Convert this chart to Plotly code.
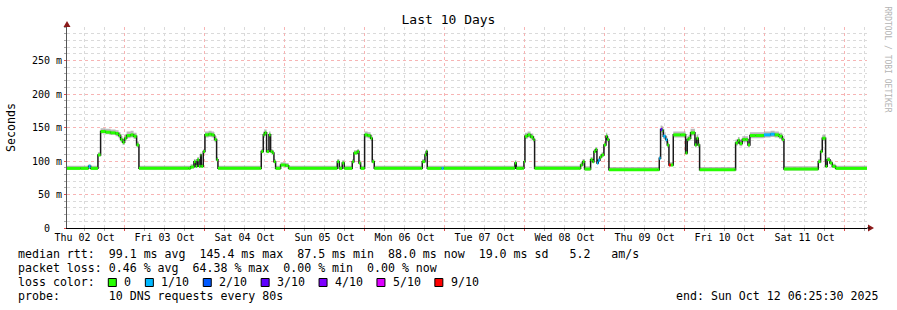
import pandas as pd
import plotly.graph_objects as go

# ---------------- data ----------------
title_text = "Last 10 Days"
day_labels = ["Thu 02 Oct", "Fri 03 Oct", "Sat 04 Oct", "Sun 05 Oct", "Mon 06 Oct",
              "Tue 07 Oct", "Wed 08 Oct", "Thu 09 Oct", "Fri 10 Oct", "Sat 11 Oct"]
y_tick_ms = [0, 50, 100, 150, 200, 250]
y_tick_text = ["0\u00a0\u00a0", "50 m", "100 m", "150 m", "200 m", "250 m"]

# hours since 2025-10-02 00:00
hours = [6.42, 10.8, 13.2, 13.8, 16.0, 16.8, 18.3, 19.8, 21.3, 22.2, 22.8, 23.4, 24.0, 24.6, 25.8, 26.7, 27.6, 28.3,
         43.2, 43.8, 44.8, 45.3, 45.8, 46.3, 46.8, 47.0, 47.6, 48.1, 49.2, 50.1, 50.8, 51.0, 51.6, 52.0,
         64.6, 65.0, 65.6, 66.0, 66.6, 67.3, 67.8, 68.4, 68.8, 69.3, 70.8, 72.3, 73.2,
         87.8, 88.4, 89.3, 89.9, 92.3, 92.8, 93.8, 94.3, 94.8, 96.0, 96.9, 97.8, 98.3, 98.9,
         112.8, 113.3, 114.1, 114.5, 114.8, 119.1, 119.7,
         140.8, 141.1, 141.5, 143.4, 143.8, 144.1, 144.9, 145.8, 146.6, 147.0,
         160.3, 160.8, 161.4, 162.0, 163.8, 164.4, 164.8, 165.3, 165.7, 166.1, 166.6, 167.1, 167.8, 168.4, 168.8, 169.3,
         183.8, 184.4, 184.8, 185.3, 185.6, 186.3, 186.8, 187.3, 187.8, 188.6, 190.8, 192.3, 192.8, 193.2, 193.8,
         194.8, 195.1, 195.6, 196.1, 196.5,
         207.0, 207.3, 208.0, 208.5, 209.3, 210.3, 211.0, 211.6, 213.3, 215.8, 217.8, 219.0, 220.3, 221.3, 221.8,
         231.8, 232.1, 232.8, 233.3, 233.8, 234.3, 234.8, 235.6, 236.3, 237.3, 246.72]
median_ms = [89, 89, 92, 89, 109, 144, 143, 142, 141, 138, 132, 128, 134, 138, 139, 137, 124, 89,
             89, 91, 99, 92, 102, 92, 109, 92, 114, 139, 140, 139, 138, 132, 102, 89,
             89, 114, 139, 142, 114, 139, 114, 112, 99, 89, 94, 93, 89,
             99, 89, 97, 89, 99, 112, 114, 97, 89, 139, 138, 134, 99, 89,
             89, 99, 109, 114, 89, 89, 89,
             89, 97, 89, 89, 99, 137, 139, 136, 132, 89,
             89, 94, 99, 88, 102, 99, 114, 117, 97, 101, 106, 109, 124, 137, 132, 87,
             87, 104, 147, 146, 137, 132, 124, 94, 94, 139, 139, 112, 132, 134, 142,
             142, 124, 134, 124, 87,
             87, 127, 131, 126, 132, 132, 124, 138, 138, 139, 140, 139, 137, 132, 88,
             88, 99, 114, 134, 134, 92, 102, 97, 92, 89, 88]
lost_pings = [0, 0, 1, 0, 0, 0, 0, 0, 0, 0, 0, 0, 0, 0, 0, 0, 0, 0,
              0, 0, 0, 0, 0, 0, 0, 0, 0, 0, 0, 0, 0, 0, 0, 0,
              0, 0, 0, 0, 0, 0, 0, 0, 0, 0, 0, 0, 0,
              0, 0, 0, 0, 0, 0, 0, 0, 0, 0, 0, 0, 0, 0,
              0, 0, 0, 0, 0, 1, 0,
              0, 0, 0, 0, 0, 0, 0, 0, 0, 0,
              0, 0, 0, 0, 0, 0, 0, 0, 1, 1, 0, 0, 0, 0, 0, 0,
              0, 1, 3, 0, 1, 1, 0, 9, 0, 0, 0, 0, 0, 0, 0,
              0, 0, 0, 0, 0,
              0, 0, 0, 0, 0, 0, 0, 0, 0, 1, 1, 0, 0, 0, 0,
              0, 0, 0, 0, 0, 0, 0, 0, 0, 0, 0]
smoke_up_ms = [4, 4, 3, 4, 4, 5, 5, 5, 5, 5, 5, 5, 6, 6, 6, 5, 5, 4,
               4, 4, 4, 4, 4, 4, 4, 4, 4, 5, 5, 5, 5, 5, 4, 4,
               4, 4, 5, 5, 4, 5, 4, 4, 4, 4, 4, 4, 4,
               4, 4, 4, 4, 4, 4, 4, 4, 4, 5, 5, 5, 4, 4,
               4, 4, 4, 4, 4, 4, 4,
               4, 4, 4, 4, 4, 5, 5, 5, 5, 4,
               4, 4, 4, 4, 4, 4, 4, 4, 4, 4, 4, 4, 4, 5, 5, 4,
               4, 4, 6, 6, 6, 5, 5, 4, 4, 5, 5, 4, 5, 5, 6,
               6, 5, 5, 5, 4,
               4, 5, 5, 5, 5, 5, 5, 5, 5, 5, 5, 5, 5, 5, 4,
               4, 4, 4, 5, 5, 4, 4, 4, 4, 4, 4]
smoke_dn_ms = [2, 2, 1, 2, 2, 3, 3, 3, 4, 4, 4, 4, 4, 4, 4, 4, 4, 2,
               2, 2, 2, 2, 2, 2, 2, 2, 2, 4, 4, 4, 4, 4, 2, 2,
               2, 2, 4, 4, 2, 4, 2, 2, 2, 2, 2, 2, 2,
               2, 2, 2, 2, 2, 2, 2, 2, 2, 4, 4, 4, 2, 2,
               2, 2, 2, 2, 2, 2, 2,
               2, 2, 2, 2, 2, 4, 4, 4, 4, 2,
               2, 2, 2, 2, 2, 2, 2, 2, 2, 2, 2, 2, 2, 4, 4, 2,
               2, 2, 4, 4, 4, 4, 4, 2, 2, 4, 4, 2, 4, 4, 4,
               4, 4, 4, 4, 2,
               2, 4, 4, 4, 4, 4, 4, 4, 4, 4, 4, 4, 4, 4, 2,
               2, 2, 2, 4, 4, 2, 2, 2, 2, 2, 2]

loss_levels = [0, 1, 2, 3, 4, 5, 9]
loss_labels = ["0", "1/10", "2/10", "3/10", "4/10", "5/10", "9/10"]
loss_colors = ["#26ff00", "#00b8ff", "#0059ff", "#5e00ff", "#7e00ff", "#dd00ff", "#ff0000"]

legend_line1 = "median rtt:  99.1 ms avg  145.4 ms max  87.5 ms min  88.0 ms now  19.0 ms sd   5.2   am/s"
legend_line2 = "packet loss: 0.46 % avg  64.38 % max  0.00 % min  0.00 % now"
legend_line3 = "loss color:"
legend_line4 = "probe:       10 DNS requests every 80s"
end_text = "end: Sun Oct 12 06:25:30 2025"
watermark = "RRDTOOL / TOBI OETIKER"

# ---------------- build ----------------
base = pd.Timestamp("2025-10-02 00:00:00")
t = [base + pd.Timedelta(hours=h) for h in hours]
t_start = base + pd.Timedelta(hours=6.72)
t_end = base + pd.Timedelta(hours=246.72)
med_s = [v / 1000 for v in median_ms]
hi_s = [(v + u) / 1000 for v, u in zip(median_ms, smoke_up_ms)]
lo_s = [(v - d) / 1000 for v, d in zip(median_ms, smoke_dn_ms)]

W, H = 897, 310
ML, MR, MT, MB = 67, 30, 27, 82
PW, PH = W - ML - MR, H - MT - MB
FONT = "DejaVu Sans Mono"
MAJOR_GRID = "#f7b4b4"
MINOR_GRID = "#dadada"

fig = go.Figure()
# smoke
fig.add_trace(go.Scatter(x=t, y=lo_s, mode="lines", line=dict(width=0, shape="hv"),
                         hoverinfo="skip", showlegend=False))
fig.add_trace(go.Scatter(x=t, y=hi_s, mode="lines", line=dict(width=0, shape="hv"),
                         fill="tonexty", fillcolor="rgba(140,140,140,0.6)",
                         hoverinfo="skip", showlegend=False))
# median black step line
fig.add_trace(go.Scatter(x=t, y=med_s, mode="lines", line=dict(color="#1a1a1a", width=1.5, shape="hv"),
                         showlegend=False))
# loss-coloured horizontal segments
for lvl, col in zip(loss_levels, loss_colors):
    xs, ys = [], []
    for i in range(len(t)):
        if lost_pings[i] != lvl:
            continue
        x1 = t[i + 1] if i + 1 < len(t) else t_end
        xs += [t[i], x1, None]
        ys += [med_s[i], med_s[i], None]
    if xs:
        fig.add_trace(go.Scatter(x=xs, y=ys, mode="lines", line=dict(color=col, width=3),
                                 showlegend=False))
# dummy for label axis
fig.add_trace(go.Scatter(x=[t_start], y=[0], xaxis="x2", mode="markers",
                         marker=dict(opacity=0), showlegend=False, hoverinfo="skip"))

midnights = [base + pd.Timedelta(days=d) for d in range(1, 11)]
noons = [base + pd.Timedelta(days=d, hours=12) for d in range(len(day_labels))]

fig.update_layout(
    width=W, height=H, margin=dict(l=ML, r=MR, t=MT, b=MB),
    plot_bgcolor="white", paper_bgcolor="white", showlegend=False,
    font=dict(family=FONT, color="black"),
    title=dict(text=title_text, x=0.5, xanchor="center", y=1 - 19 / H, yanchor="middle",
               font=dict(family=FONT, size=13, color="black")),
    xaxis=dict(type="date", range=[t_start, t_end], tickmode="array", tickvals=midnights,
               ticktext=[""] * len(midnights), showgrid=True, gridcolor=MAJOR_GRID, griddash="dot",
               gridwidth=1, ticks="outside", ticklen=2, tickcolor="#e05050",
               showline=True, linecolor="black", linewidth=1, zeroline=False,
               minor=dict(tickmode="linear", tick0=base, dtick=6 * 3600 * 1000, showgrid=True,
                          gridcolor=MINOR_GRID, griddash="dot", gridwidth=1,
                          ticks="outside", ticklen=2, tickcolor="#aaaaaa")),
    xaxis2=dict(type="date", overlaying="x", anchor="y", side="bottom", range=[t_start, t_end],
                tickmode="array", tickvals=noons, ticktext=day_labels, showgrid=False,
                ticks="", showline=False, zeroline=False, ticklabelstandoff=2,
                tickfont=dict(family=FONT, size=10, color="black")),
    yaxis=dict(range=[0, 0.3], tickmode="array", tickvals=[v / 1000 for v in y_tick_ms],
               ticktext=y_tick_text, showgrid=True, gridcolor=MAJOR_GRID, griddash="dot", gridwidth=1,
               zeroline=False, showline=True, linecolor="#555555", linewidth=1,
               ticks="outside", ticklen=2, tickcolor="#e05050",
               tickfont=dict(family=FONT, size=10, color="black"),
               minor=dict(tickmode="linear", tick0=0, dtick=0.01, showgrid=True,
                          gridcolor=MINOR_GRID, griddash="dot", gridwidth=1,
                          ticks="outside", ticklen=2, tickcolor="#aaaaaa")),
)


def px_x(px):
    return (px - ML) / PW


def px_y(py):
    return (MT + PH - py) / PH


annots = []


def text(px, py, s, anchor="left", size=11.6, color="black", angle=0):
    annots.append(dict(x=px_x(px), y=px_y(py), xref="paper", yref="paper", text=s.replace(" ", "&nbsp;"),
                       showarrow=False, xanchor=anchor, yanchor="middle", textangle=angle,
                       font=dict(family=FONT, size=size, color=color)))


text(16, 254, legend_line1)
text(16, 268, legend_line2)
text(16, 282, legend_line3)
text(16, 296, legend_line4)
text(880, 296, end_text, anchor="right")
text(11, 127, "Seconds", anchor="center", angle=-90)
text(887.5, 59, watermark, anchor="center", size=8, color="#b4b4b4", angle=90)

shapes = []
bx = 108.3
for lab, col in zip(loss_labels, loss_colors):
    shapes.append(dict(type="rect", xref="paper", yref="paper", x0=px_x(bx), x1=px_x(bx + 8),
                       y0=px_y(286.5), y1=px_y(278.5), fillcolor=col, line=dict(color="black", width=1)))
    text(bx + 14, 282, lab)
    bx += 30.1 + 6.95 * len(lab)

# axis arrows
shapes.append(dict(type="path", xref="paper", yref="paper", xsizemode="pixel", ysizemode="pixel",
                   xanchor=0, yanchor=1, path="M -3.5 0 L 3.5 0 L 0 6 Z",
                   fillcolor="#8b1a1a", line=dict(color="#8b1a1a", width=0)))
shapes.append(dict(type="path", xref="paper", yref="paper", xsizemode="pixel", ysizemode="pixel",
                   xanchor=1, yanchor=0, path="M 1 -3.5 L 1 3.5 L 7 0 Z",
                   fillcolor="#8b1a1a", line=dict(color="#8b1a1a", width=0)))
shapes.append(dict(type="line", xref="paper", yref="paper", x0=1, x1=px_x(870), y0=0, y1=0,
                   line=dict(color="black", width=1)))

fig.update_layout(annotations=annots, shapes=shapes)
fig.write_html("out.html")
